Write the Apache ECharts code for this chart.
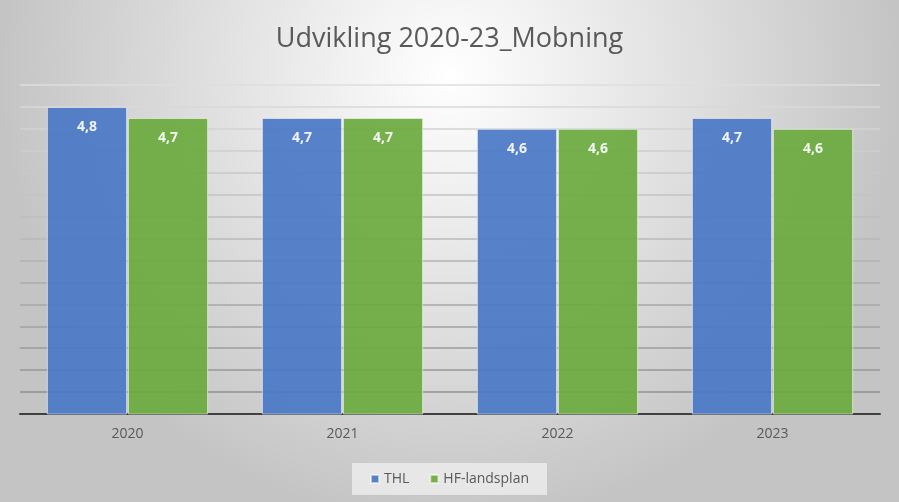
<!DOCTYPE html>
<html><head><meta charset="utf-8">
<script src="https://cdn.jsdelivr.net/npm/echarts@6/dist/echarts.min.js"></script>
<style>html,body{margin:0;padding:0;}#c{width:899px;height:502px;}</style>
</head><body><div id="c"></div>
<script>
const categories = ['2020', '2021', '2022', '2023'];
const thl = [4.8, 4.7, 4.6, 4.7];
const hf = [4.7, 4.7, 4.6, 4.6];
const seriesNames = ['THL', 'HF-landsplan'];

const chart = echarts.init(document.getElementById('c'));
const fmt = p => String(p.value.toFixed(1)).replace('.', ',');
const gridColors = [];
for (let i = 0; i <= 15; i++) {
  const v = Math.round(140 + (222 - 140) * i / 15);
  gridColors.push('rgb(' + v + ',' + v + ',' + v + ')');
}
const label = {show: true, position: 'insideTop', distance: 13, color: '#ffffff', fontWeight: 'bold', fontSize: 14, formatter: fmt, fontFamily: 'Open Sans'};
chart.setOption({
  backgroundColor: {type: 'radial', x: 0.5, y: 0.15, r: 0.9, colorStops: [{offset: 0, color: '#ffffff'}, {offset: 1, color: '#c4c4c4'}]},
  textStyle: {fontFamily: 'Open Sans'},
  title: {text: 'Udvikling 2020-23_Mobning', left: 'center', top: 21, textStyle: {fontSize: 27, fontWeight: 'normal', color: '#595959', fontFamily: 'Open Sans'}},
  legend: {data: seriesNames, bottom: 7, left: 'center', itemWidth: 8, itemHeight: 8, itemGap: 20, icon: 'rect', padding: [9, 18], backgroundColor: 'rgba(240,240,240,0.75)', textStyle: {color: '#595959', fontSize: 14}},
  grid: {left: 20, right: 19, top: 85, bottom: 88},
  xAxis: {type: 'category', data: categories, axisTick: {show: false}, axisLine: {lineStyle: {color: '#404040', width: 2}}, axisLabel: {color: '#595959', fontSize: 14, margin: 13}},
  yAxis: {type: 'value', min: 2, max: 5, interval: 0.2, axisLabel: {show: false}, axisLine: {show: false}, axisTick: {show: false}, splitLine: {lineStyle: {color: gridColors, width: 1.5}}},
  series: [
    {name: seriesNames[0], type: 'bar', data: thl, barGap: '1%', barCategoryGap: '25%', itemStyle: {color: '#4a78c6', opacity: 0.92, borderColor: 'rgba(255,255,255,0.6)', borderWidth: 1}, label: label},
    {name: seriesNames[1], type: 'bar', data: hf, itemStyle: {color: '#6aaa3f', opacity: 0.92, borderColor: 'rgba(255,255,255,0.6)', borderWidth: 1}, label: label}
  ]
});
</script></body></html>
